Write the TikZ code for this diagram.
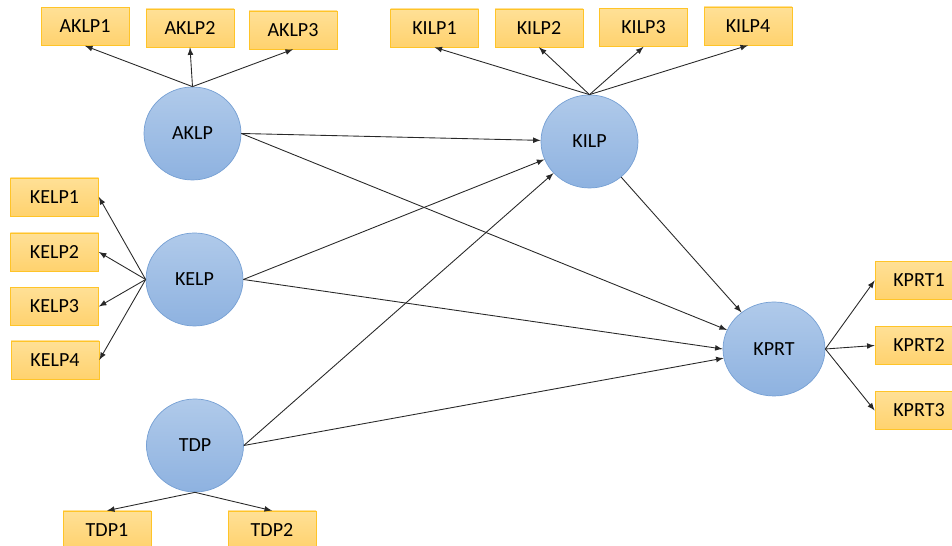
\documentclass[tikz,border=0pt]{standalone}
\usepackage{fontspec}
\setmainfont{Carlito}
\usetikzlibrary{arrows,shapes.geometric}
\definecolor{lvtop}{RGB}{176,202,234}
\definecolor{lvbot}{RGB}{142,178,224}
\definecolor{lvline}{RGB}{118,160,212}
\definecolor{mvtop}{RGB}{255,224,150}
\definecolor{mvbot}{RGB}{255,210,110}
\definecolor{mvline}{RGB}{255,196,40}
\definecolor{arrcol}{RGB}{40,40,40}
\tikzset{
  latent/.style={ellipse,draw=lvline,top color=lvtop,bottom color=lvbot,
    minimum width=1.94cm,minimum height=1.86cm,inner sep=0pt,font=\fontsize{11.4}{13}\selectfont},
  indic/.style={rectangle,draw=mvline,top color=mvtop,bottom color=mvbot,
    minimum width=1.76cm,minimum height=0.76cm,inner sep=0pt,font=\fontsize{11.4}{13}\selectfont},
  arr/.style={-latex,color=arrcol,line width=0.5pt}
}

\begin{document}
\begin{tikzpicture}
\useasboundingbox (0,0) rectangle (19.04,10.92);
% latent variables
\node (aklp) [latent] at (3.85,8.25) {AKLP};
\node (kilp) [latent] at (11.79,8.09) {KILP};
\node (kelp) [latent] at (3.89,5.33) {KELP};
\node (tdp) [latent] at (3.90,2.01) {TDP};
\node (kprt) [latent,minimum width=2.04cm,minimum height=1.88cm] at (15.48,3.94) {KPRT};
%
\node (aklp1) [indic] at (1.70,10.39) {AKLP1};
\node (aklp2) [indic] at (3.80,10.36) {AKLP2};
\node (aklp3) [indic] at (5.86,10.32) {AKLP3};
%
\node (kilp1) [indic] at (8.69,10.36) {KILP1};
\node (kilp2) [indic] at (10.78,10.36) {KILP2};
\node (kilp3) [indic] at (12.87,10.37) {KILP3};
\node (kilp4) [indic] at (14.96,10.40) {KILP4};
%
\node (kelp1) [indic] at (1.09,6.98) {KELP1};
\node (kelp2) [indic] at (1.09,5.88) {KELP2};
\node (kelp3) [indic] at (1.09,4.79) {KELP3};
\node (kelp4) [indic] at (1.10,3.72) {KELP4};
%
\node (kprt1) [indic] at (18.38,5.31) {KPRT1};
\node (kprt2) [indic] at (18.38,4.01) {KPRT2};
\node (kprt3) [indic] at (18.38,2.71) {KPRT3};
%
\node (tdp1) [indic] at (2.14,0.32) {TDP1};
\node (tdp2) [indic] at (5.44,0.32) {TDP2};

% outer model
\path[arr] (aklp.north) edge (aklp1.south);
\path[arr] (aklp.north) edge (aklp2.south);
\path[arr] (aklp.north) edge (aklp3.south);
\path[arr] (kilp.north) edge (kilp1.south);
\path[arr] (kilp.north) edge (kilp2.south);
\path[arr] (kilp.north) edge (kilp3.south);
\path[arr] (kilp.north) edge (kilp4.south);
\path[arr] (kelp.west) edge (kelp1.east);
\path[arr] (kelp.west) edge (kelp2.east);
\path[arr] (kelp.west) edge (kelp3.east);
\path[arr] (kelp.west) edge (kelp4.east);
\path[arr] (kprt.east) edge (kprt1.west);
\path[arr] (kprt.east) edge (kprt2.west);
\path[arr] (kprt.east) edge (kprt3.west);
\path[arr] (tdp.south) edge (tdp1.north);
\path[arr] (tdp.south) edge (tdp2.north);

% inner model
\path[arr] (aklp.east) edge (kilp);
\path[arr] (aklp.east) edge (kprt);
\path[arr] (kelp.east) edge (kilp);
\path[arr] (kelp.east) edge (kprt.west);
\path[arr] (tdp.east) edge (kilp);
\path[arr] (tdp.east) edge (kprt);
\path[arr] (kilp) edge (kprt);
\end{tikzpicture}
\end{document}
